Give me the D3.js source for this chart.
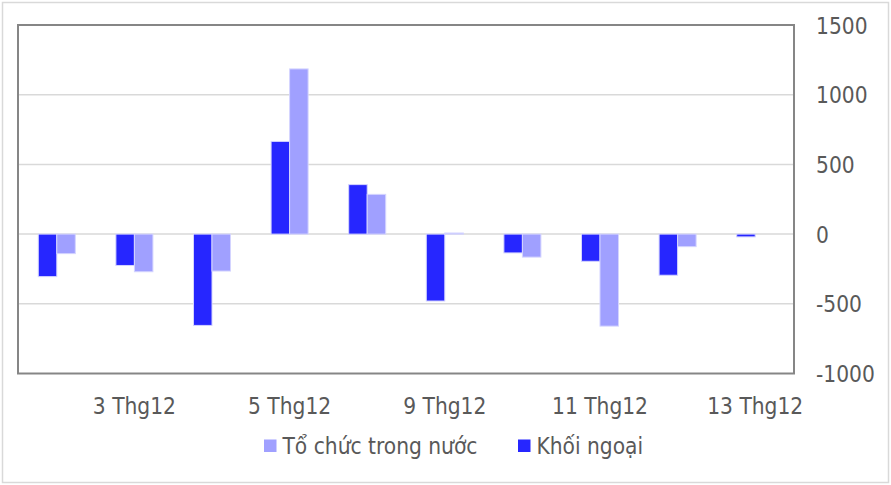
<!DOCTYPE html>
<html><head><meta charset="utf-8">
<script src="https://cdn.jsdelivr.net/npm/d3@7"></script>
<style>body{margin:0;background:#fff}svg{display:block}text{font-family:"DejaVu Sans Condensed","DejaVu Sans",sans-serif;fill:#595959}</style>
</head><body><svg id="c" width="891" height="485"></svg>
<script>
const categories = ["2 Thg12","3 Thg12","4 Thg12","5 Thg12","6 Thg12","9 Thg12","10 Thg12","11 Thg12","12 Thg12","13 Thg12"];
const khoiNgoai = [-305,-225,-655,665,355,-480,-135,-195,-295,-20];
const toChucTrongNuoc = [-140,-270,-265,1185,285,8,-165,-660,-90,0];
const yTicks = [1500,1000,500,0,-500,-1000];
const shownLabels = ["3 Thg12","5 Thg12","9 Thg12","11 Thg12","13 Thg12"];
const seriesNames = ["Tổ chức trong nước","Khối ngoại"];
const colors = {dark:"#2626ff", light:"#a0a0ff"};

const FS = 22.5;
const svg = d3.select("#c");
const L=18, R=794, T=25, B=373.5;
svg.append("rect").attr("x",2.5).attr("y",2.5).attr("width",886).attr("height",480)
  .attr("fill","#fff").attr("stroke","#d9d9d9").attr("stroke-width",1.5);

const x = d3.scaleBand().domain(categories).range([L,R]);
const y = d3.scaleLinear().domain([-1000,1500]).range([B,T]);

// gridlines
svg.append("g").selectAll("line").data(yTicks.filter(v=>v!==1500&&v!==-1000)).join("line")
  .attr("x1",L).attr("x2",R).attr("y1",d=>y(d)).attr("y2",d=>y(d))
  .attr("stroke","#d9d9d9").attr("stroke-width",1.5);

const bw = x.bandwidth()*0.2385;
const g = svg.append("g");
function bars(data, color, offset){
  g.selectAll(null).data(data).join("rect")
    .attr("x",(d,i)=>x(categories[i])+x.bandwidth()/2+offset)
    .attr("width",bw)
    .attr("y",d=>Math.min(y(d),y(0)))
    .attr("height",d=>Math.abs(y(d)-y(0)))
    .attr("fill",color).attr("stroke","#d4d4ff").attr("stroke-width",1);
}
bars(khoiNgoai, colors.dark, -bw);
bars(toChucTrongNuoc, colors.light, 0);

// frame
svg.append("rect").attr("x",L).attr("y",T).attr("width",R-L).attr("height",B-T)
  .attr("fill","none").attr("stroke","#868686").attr("stroke-width",2);

// right axis labels
const yAxis = d3.axisRight(y).tickValues(yTicks).tickSize(0).tickPadding(0).tickFormat(d=>String(d));
const ya = svg.append("g").attr("transform",`translate(816,0)`).call(yAxis);
ya.select(".domain").remove();
ya.selectAll("text").attr("font-size",FS).attr("fill","#595959").attr("x",0).attr("dy","0.36em")
  .style("font-family",'"DejaVu Sans Condensed","DejaVu Sans",sans-serif');

// x axis labels
const xAxis = d3.axisBottom(x).tickValues(shownLabels).tickSize(0).tickPadding(0);
const xa = svg.append("g").call(xAxis);
xa.select(".domain").remove();
xa.selectAll("text").attr("font-size",FS).attr("fill","#595959").attr("y",413.5).attr("dy",0)
  .style("font-family",'"DejaVu Sans Condensed","DejaVu Sans",sans-serif');

// legend
const leg = [{n:seriesNames[0],c:colors.light,x:264},{n:seriesNames[1],c:colors.dark,x:518}];
const lg = svg.append("g");
leg.forEach(d=>{
  lg.append("rect").attr("x",d.x).attr("y",439.5).attr("width",12.5).attr("height",12.5).attr("fill",d.c);
  lg.append("text").attr("x",d.x+18.5).attr("y",453.5).attr("font-size",FS).text(d.n);
});
</script></body></html>
